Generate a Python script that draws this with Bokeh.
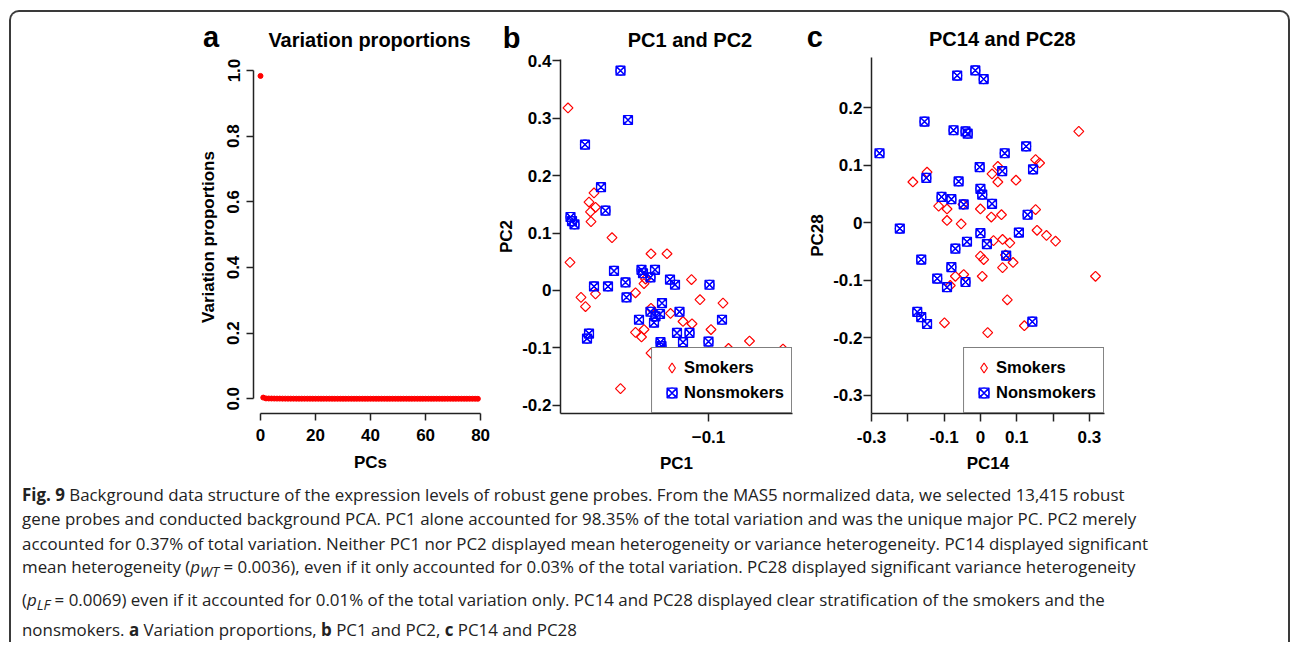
import math
from bokeh.plotting import figure
from bokeh.layouts import row, column
from bokeh.models import FixedTicker, Legend, LegendItem, Div, Spacer
from bokeh.embed import file_html
from bokeh.resources import INLINE

# ---------------- data ----------------
pc_index = list(range(80))
var_prop = [0.9835, 0.0037, 0.0011, 0.0009, 0.0008, 0.0007, 0.0006, 0.0006, 0.0005, 0.0005,
            0.0004, 0.0004, 0.0004, 0.0003, 0.0003, 0.0003, 0.0003, 0.0003, 0.0003, 0.0002,
            0.0002, 0.0002, 0.0002, 0.0002, 0.0002, 0.0002, 0.0002, 0.0001, 0.0001, 0.0001,
            0.0001, 0.0001, 0.0001, 0.0001, 0.0001, 0.0001, 0.0001, 0.0001, 0.0001, 0.0001,
            0.0001, 0.0001, 0.0001, 0.0001, 0.0001, 0.0001, 0.0001, 0.0001, 0.0001, 0.0001,
            0.0001, 0.0001, 0.0001, 0.0001, 0.0001, 0.0001, 0.0001, 0.0001, 0.0001, 0.0001,
            0.0001, 0.0001, 0.0001, 0.0001, 0.0001, 0.0001, 0.0001, 0.0001, 0.0001, 0.0001,
            0.0001, 0.0001, 0.0001, 0.0001, 0.0001, 0.0001, 0.0001, 0.0001, 0.0001, 0.0000]

# Panel b: PC1 vs PC2
sm_pc1 = [-0.1281, -0.1229, -0.1239, -0.1226, -0.1236, -0.1235, -0.1193, -0.1277, -0.1115, -0.1083,
          -0.1255, -0.1246, -0.1226, -0.1126, -0.1129, -0.1146, -0.1034, -0.1017, -0.0971, -0.1115,
          -0.1076, -0.1051, -0.1033, -0.0995, -0.1146, -0.1129, -0.1134, -0.0918, -0.0960, -0.0851,
          -0.1176, -0.1115]
sm_pc2 = [0.318, 0.170, 0.154, 0.145, 0.137, 0.120, 0.092, 0.049, 0.064, 0.064,
          -0.012, -0.028, -0.006, 0.020, 0.012, -0.004, 0.019, -0.016, -0.022, -0.031,
          -0.040, -0.054, -0.058, -0.068, -0.073, -0.068, -0.081, -0.088, -0.101, -0.102,
          -0.171, -0.109]
ns_pc1 = [-0.1176, -0.1161, -0.1247, -0.1215, -0.1206, -0.1276, -0.1273, -0.1268, -0.1189, -0.1229,
          -0.1201, -0.1166, -0.1164, -0.1134, -0.1131, -0.1116, -0.1107, -0.1077, -0.1067, -0.0998,
          -0.1239, -0.1243, -0.1116, -0.1093, -0.1097, -0.1058, -0.1139, -0.1109, -0.1063, -0.1038,
          -0.1051, -0.1000, -0.0973, -0.1096, -0.1094, -0.1106]
ns_pc2 = [0.383, 0.297, 0.254, 0.180, 0.139, 0.128, 0.121, 0.115, 0.034, 0.007,
          0.007, 0.014, -0.012, 0.036, 0.030, 0.023, 0.036, 0.019, 0.010, 0.010,
          -0.075, -0.084, -0.037, -0.022, -0.041, -0.037, -0.051, -0.056, -0.074, -0.074,
          -0.090, -0.089, -0.051, -0.090, -0.097, -0.045]

# Panel c: PC14 vs PC28
sm_pc14 = [0.271, 0.152, 0.163, -0.147, -0.186, 0.048, 0.032, 0.048, 0.098, -0.115,
           -0.092, -0.048, 0.000, 0.030, 0.058, 0.152, -0.092, -0.053, 0.156, 0.182,
           0.207, 0.036, 0.061, 0.081, 0.000, 0.009, 0.069, 0.061, 0.090, -0.069,
           -0.046, 0.005, -0.083, 0.317, 0.074, -0.099, 0.020, 0.121]
sm_pc28 = [0.159, 0.110, 0.104, 0.088, 0.071, 0.098, 0.085, 0.071, 0.074, 0.029,
           0.024, 0.032, 0.024, 0.010, 0.014, 0.023, 0.004, -0.002, -0.013, -0.022,
           -0.032, -0.031, -0.029, -0.035, -0.058, -0.064, -0.056, -0.078, -0.069, -0.093,
           -0.090, -0.093, -0.109, -0.093, -0.134, -0.174, -0.191, -0.179]
ns_pc14 = [-0.064, -0.014, 0.009, -0.154, -0.074, -0.041, -0.035, -0.278, 0.067, 0.126,
           0.145, -0.002, 0.060, -0.149, -0.060, 0.000, 0.005, 0.032, -0.107, -0.080,
           -0.046, 0.130, -0.222, 0.000, 0.106, -0.037, -0.163, -0.069, 0.018, 0.071,
           -0.080, -0.119, -0.092, -0.041, -0.174, -0.163, -0.147, 0.143]
ns_pc28 = [0.256, 0.265, 0.250, 0.176, 0.161, 0.159, 0.155, 0.121, 0.121, 0.133,
           0.093, 0.097, 0.090, 0.078, 0.072, 0.059, 0.049, 0.033, 0.045, 0.041,
           0.032, 0.014, -0.010, -0.018, -0.017, -0.033, -0.064, -0.045, -0.037, -0.057,
           -0.077, -0.097, -0.112, -0.103, -0.155, -0.164, -0.176, -0.172]

panel_letters = ["a", "b", "c"]
panel_titles = ["Variation proportions", "PC1 and PC2", "PC14 and PC28"]

a_xticks = [0, 20, 40, 60, 80]
a_yticks = [0.0, 0.2, 0.4, 0.6, 0.8, 1.0]
a_ylabels = {0.0: "0.0", 0.2: "0.2", 0.4: "0.4", 0.6: "0.6", 0.8: "0.8", 1.0: "1.0"}
b_xticks = [-0.1]
b_yticks = [-0.2, -0.1, 0.0, 0.1, 0.2, 0.3, 0.4]
b_ylabels = {-0.2: "-0.2", -0.1: "-0.1", 0.0: "0", 0.1: "0.1", 0.2: "0.2", 0.3: "0.3", 0.4: "0.4"}
c_xticks = [-0.3, -0.2, -0.1, 0.0, 0.1, 0.2, 0.3]
c_xlabels = {-0.3: "-0.3", -0.2: "", -0.1: "-0.1", 0.0: "0", 0.1: "0.1", 0.2: "", 0.3: "0.3"}
c_yticks = [-0.3, -0.2, -0.1, 0.0, 0.1, 0.2]
c_ylabels = {-0.3: "-0.3", -0.2: "-0.2", -0.1: "-0.1", 0.0: "0", 0.1: "0.1", 0.2: "0.2"}

RED = "#ff0000"
BLUE = "#0000ff"
FONT = "Liberation Sans"
AXC = "#222222"


def style(p, tick_out=7):
    p.grid.visible = False
    p.outline_line_color = None
    p.background_fill_color = "white"
    p.border_fill_color = "white"
    for ax in p.axis:
        ax.axis_line_width = 1.5
        ax.axis_line_color = AXC
        ax.major_tick_line_width = 1.5
        ax.major_tick_line_color = AXC
        ax.major_tick_in = 0
        ax.major_tick_out = tick_out
        ax.minor_tick_line_color = None
        ax.major_label_text_font = FONT
        ax.major_label_text_font_style = "bold"
        ax.major_label_text_font_size = "17px"
        ax.major_label_text_color = "black"
        ax.axis_label_text_font = FONT
        ax.axis_label_text_font_style = "bold"
        ax.axis_label_text_font_size = "17px"
        ax.axis_label_text_color = "black"


def header(width, height, letter, lpos, title, tcenter, ttop):
    html = ("<div style=\"position:relative;width:%dpx;height:%dpx;font-family:'Liberation Sans';"
            "font-weight:bold;color:black;overflow:visible;\">"
            "<span style=\"position:absolute;left:%.1fpx;top:%.1fpx;font-size:29px;line-height:0.75;\">%s</span>"
            "<span style=\"position:absolute;left:%.1fpx;top:%.1fpx;width:260px;text-align:center;"
            "font-size:20px;line-height:1;white-space:nowrap;\">%s</span></div>"
            % (width, height, lpos[0], lpos[1], letter, tcenter - 130, ttop, title))
    return Div(text=html, width=width, height=height, margin=0)


hdr_a = header(479, 45, panel_letters[0], (192, 15.1), panel_titles[0], 358.5, 18.1)
hdr_b = header(310, 39, panel_letters[1], (12.7, 16.4), panel_titles[1], 200, 17.8)
hdr_c = header(320, 45, panel_letters[2], (6.7, 15.4), panel_titles[2], 202.4, 17.1)

# ---------------- panel a ----------------
pa = figure(width=479, height=423, x_range=(-2.545, 82.5), y_range=(-0.0448, 1.0305),
            output_backend="svg", toolbar_location=None,
            min_border_left=242, min_border_right=3, min_border_top=3, min_border_bottom=67)
pa.scatter(pc_index, var_prop, size=5, color=RED)
style(pa)
pa.xaxis.bounds = (0, 80)
pa.yaxis.bounds = (0, 1)
pa.xaxis.ticker = FixedTicker(ticks=a_xticks)
pa.yaxis.ticker = FixedTicker(ticks=a_yticks)
pa.yaxis.major_label_overrides = a_ylabels
pa.yaxis.major_label_orientation = "parallel"
pa.xaxis.axis_label = "PCs"
pa.yaxis.axis_label = "Variation proportions"
pa.xaxis.major_label_standoff = 8
pa.xaxis.axis_label_standoff = 9
pa.yaxis.major_label_standoff = 7
pa.yaxis.axis_label_standoff = 7


def scatter_groups(p, sx, sy, nx, ny):
    p.scatter(sx, sy, marker="square", angle=math.pi / 4, size=7, fill_color=None,
              line_color=RED, line_width=1.2)
    r_n1 = p.scatter(nx, ny, marker="square_x", size=9, fill_color=None, line_color=BLUE, line_width=1.2)
    r_n2 = p.scatter(nx, ny, marker="circle_x", size=9, fill_color=None, line_color=BLUE, line_width=1.2)
    # legend key for smokers (diamond outline), hidden in the plot area
    r_key = p.scatter(sx, sy, marker="diamond", size=10, fill_color=None, line_color=RED,
                      line_width=1.2, visible=False)
    lg = Legend(items=[LegendItem(label="Smokers", renderers=[r_key]),
                       LegendItem(label="Nonsmokers", renderers=[r_n1, r_n2])],
                location="bottom_right", margin=0, padding=7, spacing=0,
                glyph_width=25, glyph_height=25, label_height=25, label_standoff=0,
                label_text_font=FONT, label_text_font_style="bold", label_text_font_size="16.5px",
                label_text_color="black", border_line_color="black", border_line_width=1.5,
                background_fill_color="white", background_fill_alpha=1.0,
                inactive_fill_alpha=0.0)
    p.add_layout(lg)


def style_scatter_axes(p):
    p.xaxis.major_label_standoff = 9
    p.xaxis.axis_label_standoff = 8
    p.yaxis.major_label_standoff = 1
    p.yaxis.axis_label_standoff = 3


# ---------------- panel b ----------------
pb = figure(width=310, height=429, x_range=(-0.1296, -0.0832), y_range=(-0.2143, 0.4024),
            output_backend="svg", toolbar_location=None,
            min_border_left=70, min_border_right=8, min_border_top=8, min_border_bottom=67)
scatter_groups(pb, sm_pc1, sm_pc2, ns_pc1, ns_pc2)
style(pb, tick_out=8)
pb.xaxis.ticker = FixedTicker(ticks=b_xticks)
pb.yaxis.ticker = FixedTicker(ticks=b_yticks)
pb.yaxis.major_label_overrides = b_ylabels
pb.xaxis.axis_label = "PC1"
pb.yaxis.axis_label = "PC2"
style_scatter_axes(pb)

# ---------------- panel c ----------------
pc = figure(width=320, height=423, x_range=(-0.3, 0.3418), y_range=(-0.3317, 0.2875),
            output_backend="svg", toolbar_location=None,
            min_border_left=71, min_border_right=16, min_border_top=0, min_border_bottom=67)
scatter_groups(pc, sm_pc14, sm_pc28, ns_pc14, ns_pc28)
style(pc, tick_out=8)
pc.xaxis.ticker = FixedTicker(ticks=c_xticks)
pc.yaxis.ticker = FixedTicker(ticks=c_yticks)
pc.xaxis.major_label_overrides = c_xlabels
pc.yaxis.major_label_overrides = c_ylabels
pc.xaxis.axis_label = "PC14"
pc.yaxis.axis_label = "PC28"
style_scatter_axes(pc)

# ---------------- caption ----------------
caption_lines = [
    "<b>Fig. 9</b> Background data structure of the expression levels of robust gene probes. From the MAS5 normalized data, we selected 13,415 robust",
    "gene probes and conducted background PCA. PC1 alone accounted for 98.35% of the total variation and was the unique major PC. PC2 merely",
    "accounted for 0.37% of total variation. Neither PC1 nor PC2 displayed mean heterogeneity or variance heterogeneity. PC14 displayed significant",
    "mean heterogeneity (<i>p</i><sub style=\"line-height:0\"><i>WT</i></sub> = 0.0036), even if it only accounted for 0.03% of the total variation. PC28 displayed significant variance heterogeneity",
    "(<i>p</i><sub style=\"line-height:0\"><i>LF</i></sub> = 0.0069) even if it accounted for 0.01% of the total variation only. PC14 and PC28 displayed clear stratification of the smokers and the",
    "nonsmokers. <b>a</b> Variation proportions, <b>b</b> PC1 and PC2, <b>c</b> PC14 and PC28",
]
caption_line_heights = [24, 25, 23, 33, 30, 24]
caption_html = ("<div style=\"font-family:'Open Sans';font-size:16.9px;color:#222;"
                "padding:3px 0 0 11px;white-space:nowrap;\">"
                + "".join("<div style=\"height:%dpx;line-height:24px;overflow:visible;\">%s</div>" % (h, t)
                          for h, t in zip(caption_line_heights, caption_lines))
                + "</div>")
caption = Div(text=caption_html, width=1277, height=162, margin=0)

panels = row(column(hdr_a, pa), column(hdr_b, pb), column(hdr_c, pc), Spacer(width=168, height=468))
layout = column(panels, caption,
                margin=(10, 0, 0, 9),
                styles={"border": "2px solid #3a3a3a", "border-bottom": "none",
                        "border-radius": "10px 10px 0 0", "background": "white"})

open("out.html", "w").write(file_html(layout, INLINE))
